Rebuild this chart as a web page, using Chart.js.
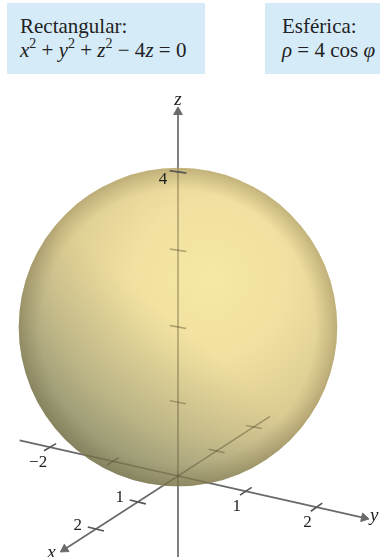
<!DOCTYPE html>
<html>
<head>
<meta charset="utf-8">
<script src="https://cdn.jsdelivr.net/npm/chart.js@4.4.1/dist/chart.umd.min.js"></script>
<style>
  html, body { margin: 0; padding: 0; background: #fff; }
  #wrap { position: relative; width: 383px; height: 557px; overflow: hidden; }
  #myChart { position: absolute; left: 0; top: 0; }
  .box {
    position: absolute; top: 3px; height: 71px; background: #d5ebf8;
    font-family: "Liberation Serif", "Times New Roman", serif; font-size: 21px;
    line-height: 24px; color: #222; box-sizing: border-box; padding-top: 11px;
  }
  .box i { font-style: italic; }
  .box sup { font-size: 14px; line-height: 0; vertical-align: 0; position: relative; top: -9px; }
</style>
</head>
<body>
<div id="wrap">
  <canvas id="myChart" width="383" height="557"></canvas>
  <div class="box" style="left:7px; width:198px; padding-left:13px;">
    Rectangular:<br><i>x</i><sup>2</sup> + <i>y</i><sup>2</sup> + <i>z</i><sup>2</sup> − 4<i>z</i> = 0
  </div>
  <div class="box" style="left:265px; width:115px; padding-left:17px;">
    Esférica:<br><i>ρ</i> = 4 cos <i>φ</i>
  </div>
</div>
<script>
// axis extents (3d units)
const xRange = [-2.45, 2.72];
const yRange = [-2.5, 2.65];
const zRange = [-1.15, 4.75];

// tick marks and the ones that carry a label
const xTicks = [-2, -1, 1, 2];
const yTicks = [-2, -1, 1, 2];
const zTicks = [1, 2, 3, 4];
const xLabels = [1, 2];
const yLabels = [-2, 1, 2];
const zLabels = [4];

// sphere x^2 + y^2 + z^2 - 4z = 0  ->  centre (0,0,2), radius 2
const sphereCenter = [0, 0, 2];
const sphereRadius = 2;

// projection of the 3d frame onto the page (unit = one z unit on screen)
const E = { u: [-0.54, 0.911, 0], v: [-0.349, -0.205, 1] };
const K = [0.02, 0.02, 0.01]; // a little perspective
const view = { x: [-2.438, 2.808], y: [-1.11, 6.521] };

function depth(p) { return 1 - K[0] * p[0] - K[1] * p[1] - K[2] * p[2]; }
function project(p) {
    const w = depth(p);
    return {
        x: (E.u[0] * p[0] + E.u[1] * p[1] + E.u[2] * p[2]) / w,
        y: (E.v[0] * p[0] + E.v[1] * p[1] + E.v[2] * p[2]) / w
    };
}
function onAxis(axis, t) { const p = [0, 0, 0]; p[axis] = t; return p; }

function axisLine(axis, range) {
    return [project(onAxis(axis, range[0])), project(onAxis(axis, range[1]))];
}

// short tick segments, drawn along another axis direction
const tickDir = [1, 0, 1];
const tickHalf = [0.12, 0.15, 0.12];
function tickSegments(list) {
    const pts = [];
    list.forEach(([axis, t]) => {
        const a = onAxis(axis, t), b = onAxis(axis, t);
        a[tickDir[axis]] -= tickHalf[axis];
        b[tickDir[axis]] += tickHalf[axis];
        pts.push(project(a), project(b), { x: null, y: null });
    });
    return pts;
}
const allTicks = [
    ...xTicks.map(t => [0, t]), ...yTicks.map(t => [1, t]), ...zTicks.map(t => [2, t])
];
const labelledTicks = [
    ...xLabels.map(t => [0, t]), ...yLabels.map(t => [1, t]), ...zLabels.map(t => [2, t])
];

// outline radius of the sphere, in plot units
function sphereRadiusUnits() {
    const s = (Math.hypot(...E.u) + Math.hypot(...E.v)) / 2;
    return sphereRadius * s / depth(sphereCenter);
}
// pixels per plot unit (scales fill the whole canvas); usable before layout
function pxPerUnit(chart) {
    return chart.width / (view.x[1] - view.x[0]);
}
function sphereGeom(chart) {
    const sx = chart.scales.x, sy = chart.scales.y;
    const c = project(sphereCenter);
    return {
        cx: sx.getPixelForValue(c.x),
        cy: sy.getPixelForValue(c.y),
        r: sphereRadiusUnits() * pxPerUnit(chart)
    };
}

function sphereFill(kind) {
    return (ctx) => {
        const chart = ctx.chart;
        if (!chart.chartArea) return 'rgba(0,0,0,0)';
        const { cx, cy, r } = sphereGeom(chart);
        const c = chart.ctx;
        let g;
        if (kind === 'base') {
            g = c.createRadialGradient(cx + 0.2 * r, cy - 0.3 * r, 0, cx + 0.2 * r, cy - 0.3 * r, 1.4 * r);
            g.addColorStop(0, '#f7e8a6');
            g.addColorStop(0.35, '#f1e09f');
            g.addColorStop(0.7, '#dccb92');
            g.addColorStop(1, '#b3a97f');
        } else if (kind === 'shade') {
            g = c.createLinearGradient(cx + 0.5 * r, cy - 0.6 * r, cx - 0.6 * r, cy + 0.7 * r);
            g.addColorStop(0, 'rgba(110,130,110,0)');
            g.addColorStop(0.45, 'rgba(110,130,110,0)');
            g.addColorStop(0.8, 'rgba(100,120,100,0.26)');
            g.addColorStop(1, 'rgba(90,110,90,0.4)');
        } else {
            g = c.createRadialGradient(cx, cy, 0, cx, cy, r);
            g.addColorStop(0, 'rgba(120,105,60,0)');
            g.addColorStop(0.86, 'rgba(120,105,60,0)');
            g.addColorStop(1, 'rgba(105,92,52,0.3)');
        }
        return g;
    };
}

function sphereRadiusPx(ctx) {
    return sphereRadiusUnits() * pxPerUnit(ctx.chart);
}

// arrow heads point along the last segment of each axis line
function arrowRotation(ctx) {
    const data = ctx.dataset.data;
    if (ctx.dataIndex !== data.length - 1) return 0;
    const sx = ctx.chart.scales.x, sy = ctx.chart.scales.y;
    const a = data[data.length - 2], b = data[data.length - 1];
    const dx = sx.getPixelForValue(b.x) - sx.getPixelForValue(a.x);
    const dy = sy.getPixelForValue(b.y) - sy.getPixelForValue(a.y);
    return Math.atan2(dx, -dy) * 180 / Math.PI;
}

const axisColor = '#6a6a6a';
const faintColor = 'rgba(85,78,48,0.45)';

function axisDataset(axis, range) {
    return {
        type: 'scatter', data: axisLine(axis, range), showLine: true,
        borderColor: axisColor, borderWidth: 1.7,
        pointRadius: [0, 5], pointStyle: 'triangle', rotation: arrowRotation,
        pointBackgroundColor: axisColor, pointBorderColor: axisColor, pointBorderWidth: 1,
        order: 6
    };
}
function faintAxis(axis, range) {
    return {
        type: 'scatter', data: axisLine(axis, range), showLine: true,
        borderColor: faintColor, borderWidth: 1.5, pointRadius: 0,
        clipSphere: true, order: 1
    };
}

const labelText = (v) => (v < 0 ? '\u2212' + Math.abs(v) : String(v));

// clip some datasets to the sphere disc (axes seen through the surface)
const sphereClip = {
    id: 'sphereClip',
    beforeDatasetDraw(chart, args) {
        if (!chart.data.datasets[args.index].clipSphere) return;
        const { cx, cy, r } = sphereGeom(chart);
        chart.ctx.save();
        chart.ctx.beginPath();
        chart.ctx.arc(cx, cy, r - 0.5, 0, Math.PI * 2);
        chart.ctx.clip();
    },
    afterDatasetDraw(chart, args) {
        if (chart.data.datasets[args.index].clipSphere) chart.ctx.restore();
    }
};

// tick labels and axis names
const axisLabels = {
    id: 'axisLabels',
    afterDatasetsDraw(chart) {
        const c = chart.ctx, sx = chart.scales.x, sy = chart.scales.y;
        const put = (p, dx, dy, text, font) => {
            const q = project(p);
            c.font = font;
            c.fillText(text, sx.getPixelForValue(q.x) + dx, sy.getPixelForValue(q.y) + dy);
        };
        c.save();
        c.fillStyle = '#222';
        c.textAlign = 'center';
        c.textBaseline = 'middle';
        const num = '17px "Liberation Serif", serif';
        const ital = 'italic 19px "Liberation Serif", serif';
        xLabels.forEach(t => put(onAxis(0, t), -18, -4, labelText(t), num));
        yLabels.forEach(t => put(onAxis(1, t), t < 0 ? -12 : -9, 15, labelText(t), num));
        zLabels.forEach(t => put(onAxis(2, t), -15, 8, labelText(t), num));
        put(onAxis(0, xRange[1]), -13, 4, 'x', ital);
        put(onAxis(1, yRange[1]), 10, -2, 'y', ital);
        put(onAxis(2, zRange[1]), 0, -12, 'z', ital);
        c.restore();
    }
};

const ctx = document.getElementById('myChart').getContext('2d');
const myChart = new Chart(ctx, {
    type: 'scatter',
    data: {
        datasets: [
            // in front
            {
                data: tickSegments(labelledTicks), showLine: true, spanGaps: false,
                borderColor: '#555', borderWidth: 1.6, pointRadius: 0, order: 0
            },
            // seen through the sphere
            faintAxis(0, xRange), faintAxis(1, yRange), faintAxis(2, zRange),
            {
                data: tickSegments(allTicks), showLine: true, spanGaps: false,
                borderColor: faintColor, borderWidth: 1.5, pointRadius: 0,
                clipSphere: true, order: 1
            },
            // the sphere
            { type: 'bubble', data: [project(sphereCenter)], radius: sphereRadiusPx,
              backgroundColor: sphereFill('rim'), borderWidth: 0, clip: false, order: 2 },
            { type: 'bubble', data: [project(sphereCenter)], radius: sphereRadiusPx,
              backgroundColor: sphereFill('shade'), borderWidth: 0, clip: false, order: 3 },
            { type: 'bubble', data: [project(sphereCenter)], radius: sphereRadiusPx,
              backgroundColor: sphereFill('base'), borderWidth: 0, clip: false, order: 4 },
            // axes behind
            axisDataset(0, xRange), axisDataset(1, yRange), axisDataset(2, zRange)
        ]
    },
    options: {
        responsive: false,
        animation: false,
        devicePixelRatio: 1,
        layout: { padding: 0, autoPadding: false },
        events: [],
        plugins: { legend: { display: false }, tooltip: { enabled: false } },
        scales: {
            x: { type: 'linear', display: false, min: view.x[0], max: view.x[1] },
            y: { type: 'linear', display: false, min: view.y[0], max: view.y[1] }
        }
    },
    plugins: [sphereClip, axisLabels]
});
</script>
</body>
</html>
